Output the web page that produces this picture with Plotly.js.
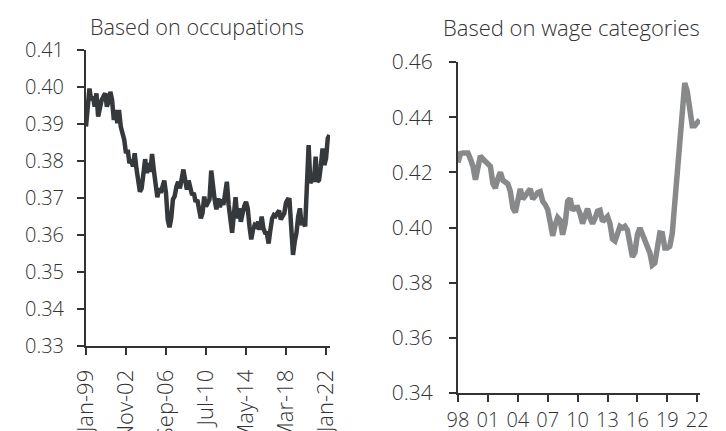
<!DOCTYPE html>
<html>
<head>
<meta charset="utf-8">
<script src="https://cdn.plot.ly/plotly-3.0.1.min.js"></script>
<style>html,body{margin:0;padding:0;background:#fff;}#chart{width:726px;height:431px;}</style>
</head>
<body>
<div id="chart"></div>
<script>
// ---- Data ----
const occTitle = 'Based on occupations';
const wageTitle = 'Based on wage categories';

// Occupations-based index, sampled every 2 months from Jan 1999
const occStartYear = 1999;
const occStepMonths = 2;
const occValues = [
  0.3893, 0.3938, 0.3996, 0.3965, 0.3974, 0.3947, 0.3983, 0.3920, 0.3947, 0.3965,
  0.3974, 0.3983, 0.3947, 0.3960, 0.3987, 0.3965, 0.3911, 0.3938, 0.3902, 0.3938,
  0.3893, 0.3875, 0.3857, 0.3821, 0.3830, 0.3794, 0.3803, 0.3785, 0.3821, 0.3780,
  0.3749, 0.3717, 0.3726, 0.3767, 0.3805, 0.3767, 0.3794, 0.3771, 0.3819, 0.3776,
  0.3726, 0.3702, 0.3726, 0.3714, 0.3731, 0.3747, 0.3713, 0.3641, 0.3621, 0.3645,
  0.3696, 0.3705, 0.3731, 0.3744, 0.3726, 0.3758, 0.3777, 0.3749, 0.3723, 0.3747,
  0.3729, 0.3708, 0.3714, 0.3690, 0.3695, 0.3668, 0.3645, 0.3659, 0.3704, 0.3677,
  0.3690, 0.3696, 0.3774, 0.3726, 0.3695, 0.3669, 0.3699, 0.3675, 0.3696, 0.3681,
  0.3713, 0.3744, 0.3681, 0.3627, 0.3606, 0.3654, 0.3702, 0.3645, 0.3672, 0.3636,
  0.3666, 0.3678, 0.3690, 0.3672, 0.3623, 0.3588, 0.3614, 0.3627, 0.3623, 0.3636,
  0.3614, 0.3650, 0.3618, 0.3606, 0.3605, 0.3577, 0.3614, 0.3645, 0.3654, 0.3651,
  0.3659, 0.3666, 0.3642, 0.3654, 0.3659, 0.3687, 0.3696, 0.3695, 0.3591, 0.3546,
  0.3582, 0.3605, 0.3650, 0.3672, 0.3627, 0.3636, 0.3623, 0.3767, 0.3843, 0.3740,
  0.3753, 0.3744, 0.3812, 0.3744, 0.3749, 0.3785, 0.3834, 0.3789, 0.3807, 0.3861,
  0.3870
];
const occTickVals = ['1999-01-01','2002-11-01','2006-09-01','2010-07-01','2014-05-01','2018-03-01','2022-01-01'];
const occTickText = ['Jan-99','Nov-02','Sep-06','Jul-10','May-14','Mar-18','Jan-22'];

// Wage-category-based index, quarterly from 1998
const wageStartYear = 1998;
const wageStepYears = 0.25;
const wageValues = [
  0.4236, 0.4268, 0.4270, 0.4268, 0.4270, 0.4248, 0.4222, 0.4173, 0.4228, 0.4260,
  0.4248, 0.4240, 0.4236, 0.4222, 0.4159, 0.4143, 0.4177, 0.4200, 0.4171, 0.4164,
  0.4158, 0.4131, 0.4071, 0.4055, 0.4107, 0.4140, 0.4103, 0.4115, 0.4135, 0.4140,
  0.4103, 0.4117, 0.4127, 0.4130, 0.4095, 0.4083, 0.4065, 0.4019, 0.3970, 0.4010,
  0.4036, 0.4026, 0.3974, 0.4014, 0.4095, 0.4105, 0.4062, 0.4072, 0.4073, 0.4049,
  0.4014, 0.4043, 0.4068, 0.4034, 0.4014, 0.4034, 0.4059, 0.4062, 0.4022, 0.4031,
  0.4040, 0.4014, 0.3958, 0.3951, 0.3980, 0.4004, 0.3998, 0.4004, 0.3990, 0.3947,
  0.3893, 0.3910, 0.3974, 0.3998, 0.3974, 0.3944, 0.3932, 0.3908, 0.3864, 0.3871,
  0.3926, 0.3980, 0.3978, 0.3926, 0.3926, 0.3932, 0.3980, 0.4089, 0.4216, 0.4343,
  0.4457, 0.4524, 0.4494, 0.4442, 0.4369, 0.4369, 0.4379, 0.4391
];
const wageTickVals = [1998, 2001, 2004, 2007, 2010, 2013, 2016, 2019, 2022];
const wageTickText = ['98','01','04','07','10','13','16','19','22'];

// ---- Build x values ----
function pad(n){return (n<10?'0':'')+n;}
const occDates = occValues.map((_, i) => {
  const m = i * occStepMonths;
  const y = occStartYear + Math.floor(m / 12);
  return y + '-' + pad(m % 12 + 1) + '-01';
});
const wageYears = wageValues.map((_, i) => wageStartYear + i * wageStepYears);

const textColor = '#333333';
const axisColor = '#333333';
const fontFam = '"Open Sans", Lato, sans-serif';
const W = 300;

const traces = [
  {x: occDates, y: occValues, type: 'scatter', mode: 'lines', xaxis: 'x', yaxis: 'y',
   line: {color: '#36393c', width: 4.5}, hoverinfo: 'skip'},
  {x: wageYears, y: wageValues, type: 'scatter', mode: 'lines', xaxis: 'x2', yaxis: 'y2',
   line: {color: '#88898b', width: 5.5}, hoverinfo: 'skip'}
];

const commonAxis = {
  showgrid: false, zeroline: false, showline: true, linecolor: axisColor, linewidth: 2,
  ticks: 'outside', ticklen: 7, tickwidth: 2, tickcolor: axisColor
};

const layout = {
  width: 726, height: 431,
  margin: {l: 0, r: 0, t: 0, b: 0},
  paper_bgcolor: '#ffffff', plot_bgcolor: '#ffffff',
  showlegend: false,
  font: {family: fontFam, color: textColor, weight: W},
  xaxis: Object.assign({}, commonAxis, {
    type: 'date', domain: [86/726, 330/726], anchor: 'y',
    range: ['1999-01-01', '2022-05-19'],
    tickmode: 'array', tickvals: occTickVals, ticktext: occTickText, tickangle: -90,
    tickfont: {family: fontFam, size: 22, color: textColor, weight: W}, ticklabelstandoff: 6
  }),
  yaxis: Object.assign({}, commonAxis, {
    domain: [1 - 346/431, 1 - 50/431], anchor: 'x',
    range: [0.33, 0.41], dtick: 0.01, tick0: 0.33, tickformat: '.2f',
    tickfont: {family: fontFam, size: 20, color: textColor, weight: W}, ticklabelstandoff: 9
  }),
  xaxis2: Object.assign({}, commonAxis, {
    domain: [458/726, 700/726], anchor: 'y2',
    range: [1998, 2022.28],
    tickmode: 'array', tickvals: wageTickVals, ticktext: wageTickText,
    tickfont: {family: fontFam, size: 20, color: textColor, weight: W}, ticklabelstandoff: 1
  }),
  yaxis2: Object.assign({}, commonAxis, {
    domain: [1 - 393/431, 1 - 62/431], anchor: 'x2',
    range: [0.34, 0.46], dtick: 0.02, tick0: 0.34, tickformat: '.2f',
    tickfont: {family: fontFam, size: 21, color: textColor, weight: W}, ticklabelstandoff: 12
  }),
  annotations: [
    {text: occTitle, xref: 'paper', yref: 'paper', x: 197/726, y: 1 - 27/431,
     xanchor: 'center', yanchor: 'middle', showarrow: false,
     font: {family: fontFam, size: 21.6, color: textColor, weight: W}},
    {text: wageTitle, xref: 'paper', yref: 'paper', x: 571/726, y: 1 - 27/431,
     xanchor: 'center', yanchor: 'middle', showarrow: false,
     font: {family: fontFam, size: 22, color: textColor, weight: W}}
  ]
};

Plotly.newPlot('chart', traces, layout, {staticPlot: true, displayModeBar: false});
</script>
</body>
</html>
